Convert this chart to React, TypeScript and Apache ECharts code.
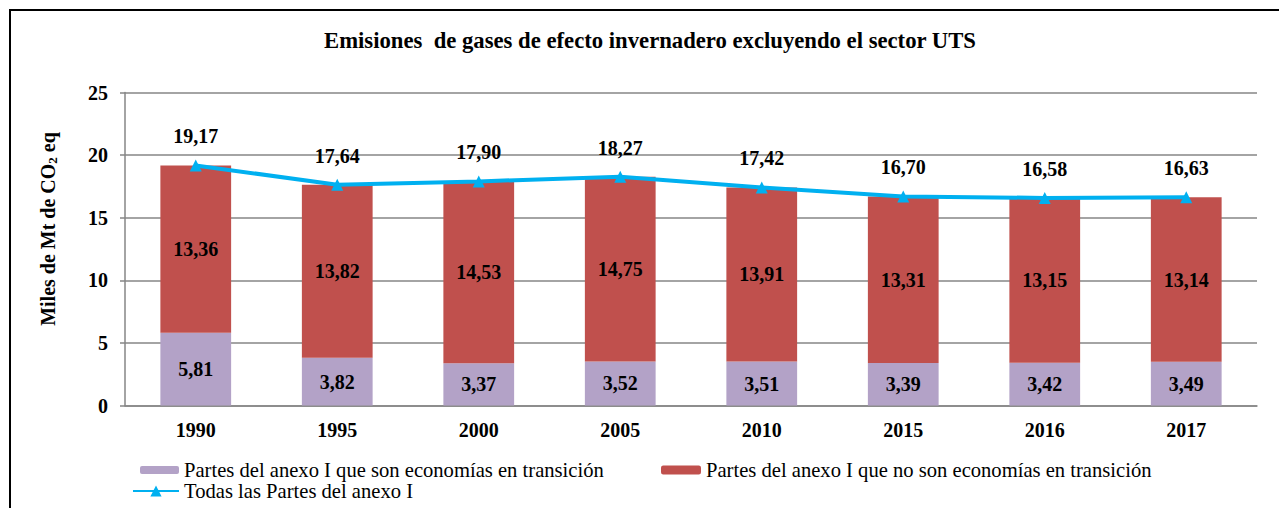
import React, { useEffect, useRef } from "react";
import * as echarts from "echarts";

const years = ["1990", "1995", "2000", "2005", "2010", "2015", "2016", "2017"];
const transicion = [5.81, 3.82, 3.37, 3.52, 3.51, 3.39, 3.42, 3.49];
const noTransicion = [13.36, 13.82, 14.53, 14.75, 13.91, 13.31, 13.15, 13.14];
const totales = [19.17, 17.64, 17.9, 18.27, 17.42, 16.7, 16.58, 16.63];
const yTicks = [0, 5, 10, 15, 20, 25];

const names = [
  "Partes del anexo I que son economías en transición",
  "Partes del anexo I que no son economías en transición",
  "Todas las Partes del anexo I",
];

const FONT = "Liberation Serif";
const fmt = (v: number) => v.toFixed(2).replace(".", ",");

export default function App() {
  const ref = useRef<HTMLDivElement>(null);
  useEffect(() => {
    document.body.style.margin = "0";
    const chart = echarts.init(ref.current!, null, { renderer: "svg" });
    const legendText = { fontFamily: FONT, fontSize: 20.6, color: "#000" };
    const boldLabel = { fontFamily: FONT, fontSize: 20, fontWeight: "bold", color: "#000" };
    chart.setOption({
      animation: false,
      backgroundColor: "#fff",
      textStyle: { fontFamily: FONT },
      title: {
        text: "Emisiones  de gases de efecto invernadero excluyendo el sector UTS",
        left: 645,
        textAlign: "center",
        top: 24,
        textStyle: { fontFamily: FONT, fontSize: 22.7, fontWeight: "bold", color: "#000" },
      },
      grid: { left: 125, right: 22, top: 92.5, bottom: 102.5 },
      legend: [
        {
          data: [names[0]],
          left: 135,
          top: 454.5,
          itemWidth: 39,
          itemHeight: 8,
          textStyle: legendText,
        },
        {
          data: [names[1]],
          left: 656,
          top: 454.5,
          itemWidth: 40,
          itemHeight: 9,
          textStyle: legendText,
        },
        {
          data: [names[2]],
          left: 127,
          top: 475.5,
          itemWidth: 46,
          itemHeight: 14,
          textStyle: legendText,
        },
      ],
      xAxis: {
        type: "category",
        data: years,
        axisLine: { show: true, lineStyle: { color: "#868686", width: 1.5 } },
        axisTick: { show: false },
        axisLabel: { margin: 14, ...boldLabel },
      },
      yAxis: {
        type: "value",
        min: yTicks[0],
        max: yTicks[yTicks.length - 1],
        interval: 5,
        axisLine: { show: true, lineStyle: { color: "#868686", width: 1.5 } },
        axisTick: { show: true, length: 5, lineStyle: { color: "#868686", width: 1.5 } },
        splitLine: { show: true, lineStyle: { color: "#868686", width: 1.5 } },
        axisLabel: { margin: 17, ...boldLabel },
      },
      graphic: [
        {
          type: "rect",
          shape: { x: 10, y: 10, width: 1300, height: 600 },
          style: { fill: "none", stroke: "#000", lineWidth: 2 },
          silent: true,
        },
        {
          type: "text",
          x: 48,
          y: 229,
          rotation: Math.PI / 2,
          style: {
            text: "{a|Miles de Mt de CO}{s|2}{a| eq}",
            align: "center",
            verticalAlign: "middle",
            rich: {
              a: { fontFamily: FONT, fontSize: 20, fontWeight: "bold", fill: "#000" },
              s: {
                fontFamily: FONT,
                fontSize: 13,
                fontWeight: "bold",
                fill: "#000",
                padding: [9, 0, 0, 0],
              },
            },
          },
        },
      ],
      series: [
        {
          name: names[0],
          type: "bar",
          stack: "total",
          barWidth: "50%",
          data: transicion,
          itemStyle: { color: "#B3A2C7" },
          label: {
            show: true,
            position: "inside",
            formatter: (p: any) => fmt(p.value),
            ...boldLabel,
          },
        },
        {
          name: names[1],
          type: "bar",
          stack: "total",
          barWidth: "50%",
          data: noTransicion,
          itemStyle: { color: "#C0504D" },
          label: {
            show: true,
            position: "inside",
            formatter: (p: any) => fmt(p.value),
            ...boldLabel,
          },
        },
        {
          name: names[2],
          type: "line",
          data: totales,
          z: 5,
          symbol: "triangle",
          symbolSize: 12,
          lineStyle: { color: "#00B0F0", width: 4 },
          itemStyle: { color: "#00B0F0" },
          label: {
            show: true,
            position: "top",
            distance: 13,
            formatter: (p: any) => fmt(p.value),
            ...boldLabel,
          },
        },
      ],
    });
    return () => chart.dispose();
  }, []);
  return <div ref={ref} style={{ width: 1279, height: 508 }} />;
}
